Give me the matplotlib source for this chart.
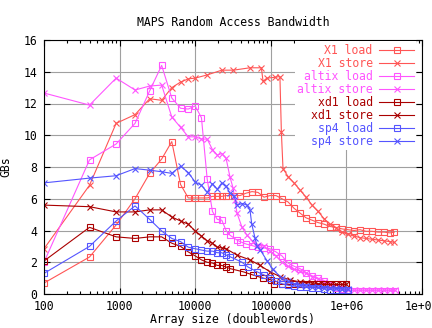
import matplotlib
matplotlib.use("Agg")
import matplotlib.pyplot as plt
from matplotlib.ticker import FixedLocator, LogLocator, NullFormatter

# Array sizes are n*n doublewords
x1_load_x = [100, 400, 900, 1600, 2500, 3600, 4900, 6400, 8100, 10000, 12100,
             14400, 16900, 19600, 22500, 25600, 32400, 39200, 47000, 56400,
             67700, 81300, 97500, 117200, 140600, 169000, 202800, 243300,
             292400, 350900, 421100, 505800, 607000, 728500, 874800, 1050000,
             1261000, 1514000, 1816000, 2182000, 2618000, 3142000, 3776000,
             4300000]
x1_load_y = [0.69, 2.33, 4.35, 6.0, 7.6, 8.5, 9.6, 6.9, 6.05, 6.05, 6.05,
             6.05, 6.15, 6.15, 6.15, 6.2, 6.2, 6.2, 6.35, 6.45,
             6.4, 6.1, 6.2, 6.2, 6.0, 5.8, 5.4, 5.1,
             4.8, 4.65, 4.5, 4.4, 4.25, 4.2, 4.1, 4.05,
             4.0, 4.05, 3.95, 3.95, 3.9, 3.9, 3.85,
             3.9]

x1_store_x = [100, 400, 900, 1600, 2500, 3600, 4900, 6400, 8100, 10000, 14400,
              22500, 32000, 53000, 75000, 79000, 90000, 113000, 132000, 138000,
              145000, 169000, 202800, 243300, 292400, 350900, 421100, 505800,
              607000, 728500, 874800, 1050000, 1261000, 1514000, 1816000,
              2182000, 2618000, 3142000, 3776000, 4300000]
x1_store_y = [2.85, 6.85, 10.75, 11.3, 12.3, 12.2, 13.0, 13.35, 13.55, 13.6, 13.8,
              14.1, 14.1, 14.25, 14.25, 13.4, 13.6, 13.65, 13.7, 10.2,
              7.9, 7.4, 7.0, 6.55, 6.1, 5.6, 5.2, 4.75,
              4.4, 4.15, 3.9, 3.75, 3.65, 3.55, 3.5,
              3.45, 3.4, 3.35, 3.3, 3.25]

altix_load_x = [100, 400, 900, 1600, 2500, 3600, 4900, 6400, 8100, 10000, 12100,
                14400, 16900, 19600, 22500, 25600, 28900, 35700, 39200, 47000,
                56400, 67700, 81300, 97500, 117200, 140600, 169000, 202800,
                243300, 292400, 350900, 421100, 505800, 607000, 728500, 874800,
                1050000, 1261000, 1514000, 1816000, 2182000, 2618000, 3142000,
                3776000, 4390000]
altix_load_y = [2.0, 8.45, 9.45, 10.75, 12.8, 14.4, 12.35, 11.7, 11.65, 11.85, 11.1,
                7.25, 5.2, 4.7, 4.65, 4.0, 3.7, 3.4, 3.3, 3.15,
                3.05, 2.95, 2.9, 2.85, 2.65, 2.4, 1.95, 1.75,
                1.6, 1.35, 1.15, 1.0, 0.85, 0.55, 0.4, 0.3,
                0.22, 0.2, 0.2, 0.2, 0.2, 0.2, 0.2,
                0.2, 0.2]

altix_store_x = [100, 400, 900, 1600, 2500, 3600, 4900, 6400, 8100, 10000, 12100,
                 14400, 16900, 19600, 22500, 25600, 28900, 31600, 33600, 35700,
                 41600, 48400, 58200, 67700, 81300, 97500, 117200, 140600,
                 169000, 202800, 243300, 292400, 350900, 421100, 505800, 607000,
                 728500, 874800, 1050000, 1261000, 1514000, 1816000, 2182000,
                 2618000, 3142000, 3776000, 4390000]
altix_store_y = [12.66, 11.9, 13.6, 12.85, 13.1, 13.16, 11.15, 10.5, 9.9, 9.9, 9.76,
                 9.76, 9.1, 8.75, 8.85, 8.55, 7.35, 6.7, 5.9, 5.1,
                 4.2, 3.7, 3.3, 3.1, 3.0, 2.7, 2.4, 2.0,
                 1.75, 1.55, 1.45, 1.3, 1.1, 0.95, 0.75, 0.55,
                 0.4, 0.3, 0.25, 0.25, 0.25, 0.25, 0.25,
                 0.25, 0.25, 0.25, 0.25]

xd1_load_x = [100, 400, 900, 1600, 2500, 3600, 4900, 6400, 8100, 10000, 12100,
              14400, 16900, 19600, 22500, 25600, 28900, 43000, 58000, 79000,
              100000, 110000, 140600, 169000, 202800, 243300, 292400, 350900,
              421100, 505800, 607000, 728500, 874800, 1000000]
xd1_load_y = [2.08, 4.2, 3.6, 3.5, 3.6, 3.6, 3.2, 3.0, 2.65, 2.4, 2.15,
              2.0, 1.95, 1.8, 1.8, 1.7, 1.6, 1.4, 1.2, 1.0,
              0.9, 0.62, 0.6, 0.6, 0.6, 0.6, 0.6, 0.6,
              0.6, 0.6, 0.6, 0.6, 0.6, 0.6]

xd1_store_x = [100, 400, 900, 1600, 2500, 3600, 4900, 6400, 8100, 10000, 12100,
               14400, 16900, 19600, 22500, 25600, 35700, 53000, 72000, 97500,
               132000, 179000, 243300, 292400, 350900, 421100, 505800, 607000,
               728500, 874800, 1000000]
xd1_store_y = [5.6, 5.5, 5.17, 5.17, 5.3, 5.3, 4.85, 4.6, 4.4, 3.97, 3.65,
               3.35, 3.2, 2.95, 2.9, 2.85, 2.45, 2.15, 1.8, 1.4,
               1.1, 0.9, 0.75, 0.72, 0.7, 0.65, 0.62, 0.6,
               0.6, 0.6, 0.6]

sp4_load_x = [100, 400, 900, 1600, 2500, 3600, 4900, 6400, 8100, 10000, 12100,
              14400, 16900, 19600, 22500, 25600, 28900, 41600, 50000, 65700,
              81300, 97500, 117200, 140600, 169000, 202800, 243300, 292400,
              350900, 421100, 505800, 607000, 728500, 874800, 1050000]
sp4_load_y = [1.3, 3.0, 4.6, 5.55, 4.7, 3.97, 3.5, 3.3, 2.95, 2.85, 2.77,
              2.7, 2.7, 2.6, 2.6, 2.45, 2.35, 2.0, 1.7, 1.4,
              1.2, 1.0, 0.8, 0.65, 0.55, 0.5, 0.45, 0.42,
              0.4, 0.37, 0.33, 0.28, 0.25, 0.25, 0.25]

sp4_store_x = [100, 400, 900, 1600, 2500, 3600, 4900, 6400, 8100, 10000, 12100,
               14400, 16900, 19600, 22500, 25600, 28900, 32400, 36000, 42000,
               48400, 53000, 56000, 62000, 66000, 72000, 89000, 106000, 140600,
               169000, 202800, 243300, 292400, 350900, 421100, 505800, 607000,
               728500, 874800, 1050000]
sp4_store_y = [7.0, 7.3, 7.45, 7.9, 7.8, 7.7, 7.6, 8.05, 7.65, 7.05, 6.85,
               6.4, 6.95, 6.6, 7.0, 6.8, 6.35, 6.2, 5.6, 5.7,
               5.6, 5.3, 4.4, 3.5, 3.0, 2.8, 2.1, 1.55, 1.0,
               0.8, 0.65, 0.55, 0.5, 0.45, 0.42, 0.4, 0.38,
               0.35, 0.33, 0.3]

x_ticks = [1e2, 1e3, 1e4, 1e5, 1e6, 1e7]
x_tick_labels = ["100", "1000", "10000", "100000", "1e+06", "1e+07"]
y_ticks = [0, 2, 4, 6, 8, 10, 12, 14, 16]

RED = "#ff5555"
MAGENTA = "#ff55ff"
DARKRED = "#aa0000"
BLUE = "#5555ff"

series = [
    ("X1 load", x1_load_x, x1_load_y, RED, "s"),
    ("X1 store", x1_store_x, x1_store_y, RED, "x"),
    ("altix load", altix_load_x, altix_load_y, MAGENTA, "s"),
    ("altix store", altix_store_x, altix_store_y, MAGENTA, "x"),
    ("xd1 load", xd1_load_x, xd1_load_y, DARKRED, "s"),
    ("xd1 store", xd1_store_x, xd1_store_y, DARKRED, "x"),
    ("sp4 load", sp4_load_x, sp4_load_y, BLUE, "s"),
    ("sp4 store", sp4_store_x, sp4_store_y, BLUE, "x"),
]

plt.rcParams["font.family"] = "DejaVu Sans Mono"
plt.rcParams["font.size"] = 8.3

fig = plt.figure(figsize=(4.32, 3.28), dpi=100)
ax = fig.add_axes([44 / 432, 34 / 328, 378 / 432, 254 / 328])

for label, xs, ys, color, marker in series:
    ax.plot(xs, ys, color=color, lw=0.8, marker=marker, markersize=4,
            markerfacecolor="none", markeredgewidth=0.8, label=label)

ax.set_xscale("log")
ax.set_xlim(1e2, 1e7)
ax.set_ylim(0, 16)
ax.xaxis.set_major_locator(FixedLocator(x_ticks))
ax.set_xticklabels(x_tick_labels)
ax.xaxis.set_minor_locator(LogLocator(base=10, subs=range(2, 10)))
ax.xaxis.set_minor_formatter(NullFormatter())
ax.set_yticks(y_ticks)

ax.tick_params(which="both", direction="in", top=True, right=True,
               color="black")
ax.tick_params(axis="x", pad=4.5)
ax.tick_params(axis="y", pad=5)
ax.tick_params(which="major", length=4, width=0.8)
ax.tick_params(which="minor", length=2.5, width=0.8)
ax.grid(True, which="major", color="#a0a0a0", lw=0.8)
ax.set_axisbelow(True)
for sp in ax.spines.values():
    sp.set_linewidth(0.8)

ax.set_title("MAPS Random Access Bandwidth", fontsize=8.3, pad=10)
ax.set_xlabel("Array size (doublewords)", labelpad=0)
ax.set_ylabel("GBs", labelpad=8)

leg = ax.legend(loc="upper right", bbox_to_anchor=(0.985, 0.995),
                markerfirst=False, labelcolor="linecolor", handlelength=3,
                numpoints=1, frameon=True, framealpha=1, edgecolor="none",
                fancybox=False, borderpad=0.2, labelspacing=0.0,
                handletextpad=0.6, borderaxespad=0)

fig.savefig("out.png", dpi=100)
